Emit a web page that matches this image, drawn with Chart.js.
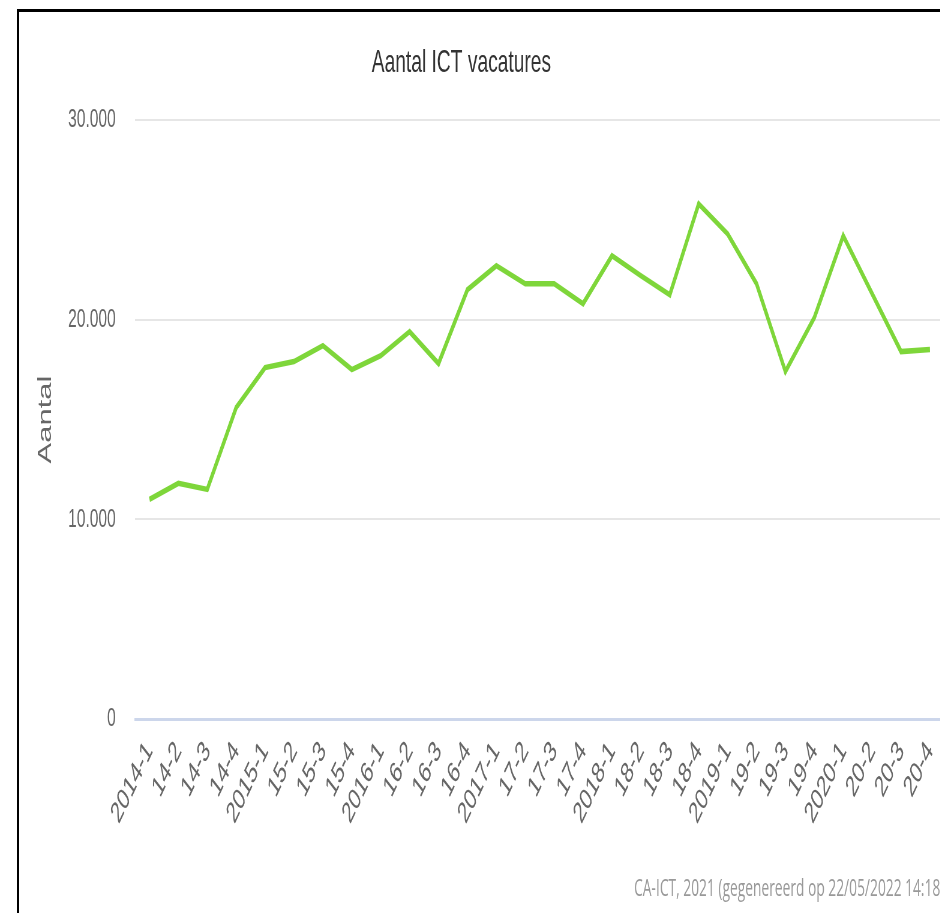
<!DOCTYPE html>
<html>
<head>
<meta charset="utf-8">
<script src="https://cdn.jsdelivr.net/npm/chart.js@4"></script>
<style>
html,body{margin:0;padding:0;background:#fff;overflow:hidden;width:940px;height:913px;}
#wrap{position:absolute;left:0;top:0;width:1595px;height:913px;transform:scaleX(0.6);transform-origin:0 0;}
#frame{position:absolute;left:17px;top:9px;width:1000px;height:1000px;border-left:2px solid #000;border-top:3px solid #000;box-sizing:border-box;pointer-events:none;}
</style>
</head>
<body>
<div id="wrap"><canvas id="c" width="1595" height="913"></canvas></div>
<div id="frame"></div>
<script>
const categories = ['2014-1','14-2','14-3','14-4','2015-1','15-2','15-3','15-4','2016-1','16-2','16-3','16-4','2017-1','17-2','17-3','17-4','2018-1','18-2','18-3','18-4','2019-1','19-2','19-3','19-4','2020-1','20-2','20-3','20-4'];
const vacatures = [11000, 11800, 11500, 15600, 17600, 17900, 18700, 17500, 18200, 19400, 17800, 21500, 22700, 21800, 21800, 20800, 23200, 22200, 21250, 25800, 24300, 21800, 17400, 20100, 24200, 21300, 18400, 18500];
const yTicks = [0, 10000, 20000, 30000];
const titleText = 'Aantal ICT vacatures';
const yAxisTitle = 'Aantal';
const creditText = 'CA-ICT, 2021 (gegenereerd op 22/05/2022 14:18)';

function fmt(v) { return String(v).replace(/\B(?=(\d{3})+(?!\d))/g, '.'); }
const FONT = "'Liberation Sans', Arial, Helvetica, sans-serif";

new Chart(document.getElementById('c'), {
  type: 'line',
  data: {
    labels: categories,
    datasets: [{
      data: vacatures,
      borderColor: '#7ed63a',
      backgroundColor: '#7ed63a',
      borderWidth: 5.5,
      pointRadius: 0,
      tension: 0,
      fill: false
    }]
  },
  options: {
    responsive: false,
    animation: false,
    devicePixelRatio: 1,
    layout: { padding: { left: -36, right: 21, top: 0, bottom: 0 } },
    plugins: {
      legend: { display: false },
      tooltip: { enabled: false },
      title: {
        display: true, text: titleText, color: '#333333',
        font: { family: FONT, size: 32, weight: 'normal' },
        padding: { top: 44, bottom: 37.6 }
      },
      subtitle: {
        display: true, position: 'bottom', align: 'end', text: creditText, color: '#999999',
        font: { family: "'Open Sans', sans-serif", size: 23, weight: 'normal' },
        padding: { top: 0, bottom: 10 }
      }
    },
    scales: {
      x: {
        type: 'category',
        offset: true,
        grid: { display: false, drawTicks: false },
        border: { display: true, color: '#ccd6eb', width: 3 },
        ticks: {
          autoSkip: false, minRotation: 52, maxRotation: 52,
          color: '#666666', font: { family: FONT, size: 30 }, padding: 16
        },
        afterFit: s => { s.height = 156.4; }
      },
      y: {
        min: 0, max: 30000,
        afterBuildTicks: s => { s.ticks = yTicks.map(v => ({ value: v })); },
        grid: {
          drawTicks: false,
          color: c => c.tick && c.tick.value === 0 ? '#ccd6eb' : '#e6e6e6',
          lineWidth: c => c.tick && c.tick.value === 0 ? 3 : 2
        },
        border: { display: false },
        ticks: {
          color: '#666666', font: { family: FONT, size: 26 }, padding: 32,
          callback: v => fmt(v)
        },
        title: {
          display: true, text: yAxisTitle, color: '#666666',
          font: { family: FONT, size: 31 }, padding: { top: 94, bottom: 0 }
        },
        afterFit: s => { s.width = 261; }
      }
    }
  }
});
</script>
</body>
</html>
